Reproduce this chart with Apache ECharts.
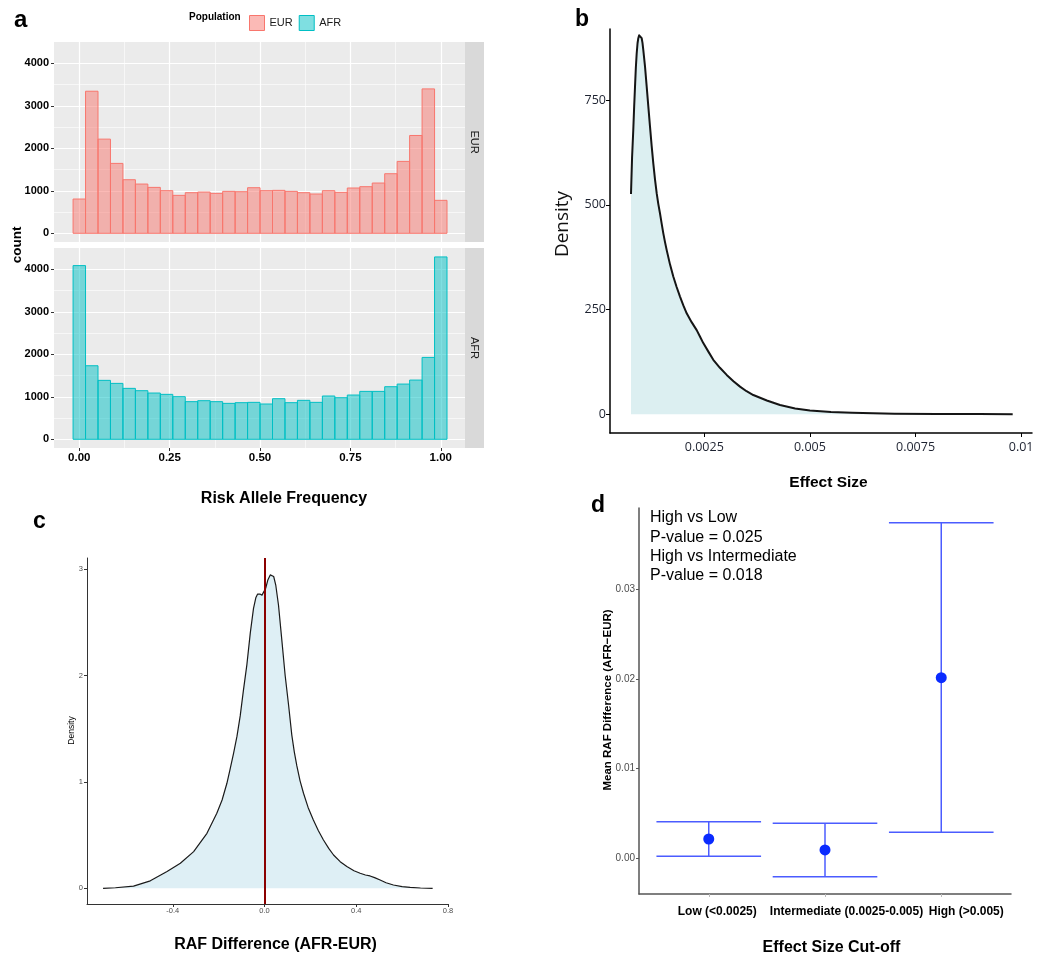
<!DOCTYPE html>
<html><head><meta charset="utf-8">
<script src="https://cdn.jsdelivr.net/npm/echarts@6/dist/echarts.min.js"></script>
<style>html,body{margin:0;padding:0;background:#fff}#chart{width:1050px;height:963px}</style>
</head><body><div id="chart"></div>
<script>
// ---------- Panel a: histogram of risk allele frequency ----------
const RAF_BIN_COUNT = 30;                       // ggplot default bins
const rafTicks = [0, 0.25, 0.5, 0.75, 1];
const rafMinorTicks = [0.125, 0.375, 0.625, 0.875];
const countTicks = [0, 1000, 2000, 3000, 4000];
const countMinorTicks = [500, 1500, 2500, 3500];
const eurCounts = [806, 3342, 2215, 1644, 1260, 1158, 1080, 1002, 892, 955, 970, 939, 986, 978, 1072,
                   1002, 1010, 986, 955, 924, 1002, 963, 1065, 1096, 1182, 1401, 1691, 2301, 3397, 775];
const afrCounts = [4086, 1730, 1386, 1315, 1198, 1143, 1088, 1057, 1002, 885, 908, 885, 845, 861, 869,
                   830, 955, 861, 916, 869, 1018, 978, 1041, 1127, 1127, 1237, 1299, 1393, 1926, 4290];

// ---------- Panel b: density of effect size ----------
const effectX = [0.000765, 0.000790, 0.000819, 0.000840, 0.000860, 0.000880, 0.000900, 0.000920, 0.000938,
                 0.000958, 0.000978, 0.000998, 0.001018, 0.001037, 0.001056, 0.001097, 0.001137,
                 0.001176, 0.001215, 0.001254, 0.001293, 0.001333, 0.001373, 0.001412, 0.001451, 0.001490,
                 0.001530, 0.001570, 0.001610, 0.001688, 0.001766, 0.001845, 0.001925, 0.002004, 0.002083,
                 0.002200, 0.002320, 0.002400, 0.002476, 0.002600, 0.002713, 0.002870, 0.003030, 0.003190,
                 0.003345, 0.003500, 0.003660, 0.003980, 0.004292, 0.004650, 0.0050, 0.0055,
                 0.0060, 0.0065, 0.0070, 0.0080, 0.0090, 0.0098];
const effectDensity = [526, 612, 679, 735, 782, 828, 862, 886, 898, 905, 906, 904, 898, 887, 870, 830, 782,
                       734, 687, 641, 599, 561, 528, 502, 480, 456, 432, 411, 392, 358, 329, 304, 281, 260, 241,
                       220, 201, 185, 170, 149, 130, 111, 94, 79, 66, 55, 46, 33, 22, 14, 9, 5.5,
                       3.5, 2.2, 1.4, 0.8, 0.5, 0.3];
const effectTicks = [0.0025, 0.005, 0.0075, 0.01];
const effectTickLabels = ['0.0025', '0.005', '0.0075', '0.01'];
const effectDensityTicks = [0, 250, 500, 750];

// ---------- Panel c: density of RAF difference ----------
const rafDiffX = [-0.704, -0.65, -0.571, -0.498, -0.425, -0.367, -0.309, -0.251, -0.208, -0.185, -0.164, -0.150,
                  -0.135, -0.120, -0.106, -0.092, -0.077, -0.062, -0.048, -0.038, -0.030, -0.020, -0.011,
                  -0.003, 0.005, 0.015, 0.025, 0.031, 0.040, 0.049, 0.061, 0.076, 0.090, 0.105, 0.119, 0.130,
                  0.141, 0.155, 0.170, 0.190, 0.213, 0.235, 0.257, 0.280, 0.301, 0.330, 0.359, 0.390, 0.417,
                  0.440, 0.460, 0.480, 0.504, 0.530, 0.562, 0.600, 0.635, 0.680, 0.733];
const rafDiffDensity = [0, 0.005, 0.02, 0.07, 0.157, 0.235, 0.345, 0.517, 0.705, 0.83, 0.987, 1.12,
                        1.268, 1.43, 1.62, 1.86, 2.10, 2.40, 2.63, 2.73, 2.765, 2.765, 2.755,
                        2.765, 2.82, 2.90, 2.945, 2.955, 2.93, 2.85, 2.66, 2.32, 2.0, 1.72, 1.44, 1.28,
                        1.15, 1.01, 0.893, 0.76, 0.642, 0.54, 0.454, 0.375, 0.313, 0.25, 0.204, 0.165, 0.141,
                        0.125, 0.116, 0.10, 0.078, 0.052, 0.031, 0.016, 0.009, 0.003, 0];
const rafDiffTicks = [-0.4, 0, 0.4, 0.8];
const rafDiffTickLabels = ['-0.4', '0.0', '0.4', '0.8'];
const rafDiffDensityTicks = [0, 1, 2, 3];

// ---------- Panel d: mean RAF difference by effect size cut-off ----------
const cutoffCategories = ['Low (<0.0025)', 'Intermediate (0.0025-0.005)', 'High (>0.005)'];
const cutoffMeans = [0.00215, 0.00093, 0.02013];
const cutoffLower = [0.00022, -0.00205, 0.0029];
const cutoffUpper = [0.00408, 0.0039, 0.03741];
const meanTicks = [0, 0.01, 0.02, 0.03];
const meanTickLabels = ['0.00', '0.01', '0.02', '0.03'];

// ---------- build ----------
const FF = "'Liberation Sans', Arial, Helvetica, sans-serif";
const FO = "'Open Sans', 'Noto Sans', sans-serif";
const binWidth = 1 / (RAF_BIN_COUNT - 1);
const binData = counts => counts.map((c, i) => [i * binWidth - binWidth / 2, i * binWidth + binWidth / 2, c]);
const WHISKER = 0.45;

function histRender(fill, stroke) {
  return function (params, api) {
    const p0 = api.coord([api.value(0), api.value(2)]);
    const p1 = api.coord([api.value(1), 0]);
    return { type: 'rect', shape: { x: p0[0], y: p0[1], width: p1[0] - p0[0], height: p1[1] - p0[1] },
      style: { fill: fill, stroke: stroke, lineWidth: 1 } };
  };
}
function errRender(params, api) {
  const x = api.value(0);
  const pHi = api.coord([x, api.value(2)]);
  const pLo = api.coord([x, api.value(1)]);
  const half = api.coord([x + WHISKER, 0])[0] - api.coord([x, 0])[0];
  const st = { stroke: '#4b5cff', lineWidth: 1.5 };
  return { type: 'group', children: [
    { type: 'line', shape: { x1: pHi[0], y1: pHi[1], x2: pLo[0], y2: pLo[1] }, style: st },
    { type: 'line', shape: { x1: pHi[0] - half, y1: pHi[1], x2: pHi[0] + half, y2: pHi[1] }, style: st },
    { type: 'line', shape: { x1: pLo[0] - half, y1: pLo[1], x2: pLo[0] + half, y2: pLo[1] }, style: st }
  ] };
}

const gg = { show: true, backgroundColor: '#EBEBEB', borderWidth: 0, outerBoundsMode: 'none' };
const plain = { show: false, outerBoundsMode: 'none' };

function aX(gridIndex, showLabels) {
  return [{
    type: 'value', gridIndex, min: -0.07, max: 1.067, position: 'bottom',
    axisLine: { show: false, onZero: false },
    axisTick: { show: showLabels, customValues: rafTicks, length: 3, lineStyle: { color: '#333' } },
    axisLabel: { show: showLabels, customValues: rafTicks, margin: 4, fontSize: 11.5, fontWeight: 'bold',
      color: '#000', fontFamily: FF, formatter: v => v.toFixed(2) },
    splitLine: { show: true, lineStyle: { color: '#fff', width: 1.2 } }
  }, {
    type: 'value', gridIndex, min: -0.07, max: 1.067, position: 'top',
    axisLine: { show: false, onZero: false }, axisLabel: { show: false },
    axisTick: { show: false, customValues: rafMinorTicks },
    splitLine: { show: true, lineStyle: { color: '#fff', width: 0.6 } }
  }];
}
function aY(gridIndex) {
  return [{
    type: 'value', gridIndex, min: -205, max: 4500, position: 'left',
    axisLine: { show: false, onZero: false },
    axisTick: { show: true, customValues: countTicks, length: 3, lineStyle: { color: '#333' } },
    axisLabel: { customValues: countTicks, margin: 5, fontSize: 11, fontWeight: 'bold', color: '#000',
      fontFamily: FF, formatter: v => String(v) },
    splitLine: { show: true, lineStyle: { color: '#fff', width: 1.2 } }
  }, {
    type: 'value', gridIndex, min: -205, max: 4500, position: 'right',
    axisLine: { show: false, onZero: false }, axisLabel: { show: false },
    axisTick: { show: false, customValues: countMinorTicks },
    splitLine: { show: true, lineStyle: { color: '#fff', width: 0.6 } }
  }];
}

const labelPad = [17, 43, 50];

const option = {
  animation: false,
  backgroundColor: '#fff',
  grid: [
    Object.assign({ left: 54, top: 42, width: 411, height: 200 }, gg),
    Object.assign({ left: 54, top: 248, width: 411, height: 200 }, gg),
    Object.assign({ left: 610, top: 29, width: 422, height: 404 }, plain),
    Object.assign({ left: 87, top: 558, width: 361, height: 346 }, plain),
    Object.assign({ left: 639, top: 508, width: 372, height: 386 }, plain)
  ],
  xAxis: [
    ...aX(0, false), ...aX(1, true),
    { type: 'value', gridIndex: 2, min: 0.000268, max: 0.010257,
      axisLine: { onZero: false, lineStyle: { color: '#000', width: 1.5 } },
      axisTick: { customValues: effectTicks, length: 4, lineStyle: { color: '#000' } },
      axisLabel: { customValues: effectTicks, margin: 8, fontSize: 12.5, color: '#1d2230', fontFamily: FO,
        formatter: v => effectTickLabels[effectTicks.indexOf(v)] ?? String(v) },
      splitLine: { show: false } },
    { type: 'value', gridIndex: 3, min: -0.774, max: 0.800,
      axisLine: { onZero: false, lineStyle: { color: '#333', width: 1 } },
      axisTick: { customValues: rafDiffTicks, length: 3, lineStyle: { color: '#333' } },
      axisLabel: { customValues: rafDiffTicks, margin: 3, fontSize: 7.5, color: '#4d4d4d', fontFamily: FF,
        formatter: v => rafDiffTickLabels[rafDiffTicks.indexOf(v)] ?? String(v) },
      splitLine: { show: false } },
    { type: 'value', gridIndex: 4, min: 0.4, max: 3.6,
      axisLine: { onZero: false, lineStyle: { color: '#555', width: 1.5 } },
      axisTick: { customValues: [1, 2, 3], length: 3, lineStyle: { color: '#bbb' } },
      axisLabel: { customValues: [1, 2, 3], margin: 12, color: '#000',
        formatter: v => '{c' + (v - 1) + '|' + cutoffCategories[v - 1] + '}',
        rich: {
          c0: { fontSize: 12, fontWeight: 'bold', fontFamily: FF, color: '#000', padding: [0, 0, 0, labelPad[0]] },
          c1: { fontSize: 12, fontWeight: 'bold', fontFamily: FF, color: '#000', padding: [0, 0, 0, labelPad[1]] },
          c2: { fontSize: 12, fontWeight: 'bold', fontFamily: FF, color: '#000', padding: [0, 0, 0, labelPad[2]] }
        } },
      splitLine: { show: false } }
  ],
  yAxis: [
    ...aY(0), ...aY(1),
    { type: 'value', gridIndex: 2, min: -44.7, max: 920,
      axisLine: { onZero: false, lineStyle: { color: '#000', width: 1.5 } },
      axisTick: { customValues: effectDensityTicks, length: 4, lineStyle: { color: '#000' } },
      axisLabel: { customValues: effectDensityTicks, margin: 4, fontSize: 12.5, color: '#1d2230', fontFamily: FO,
        formatter: v => String(v) },
      splitLine: { show: false } },
    { type: 'value', gridIndex: 3, min: -0.1476, max: 3.104,
      axisLine: { onZero: false, lineStyle: { color: '#333', width: 1 } },
      axisTick: { customValues: rafDiffDensityTicks, length: 3, lineStyle: { color: '#333' } },
      axisLabel: { customValues: rafDiffDensityTicks, margin: 4, fontSize: 7.5, color: '#4d4d4d', fontFamily: FF,
        formatter: v => String(v) },
      splitLine: { show: false } },
    { type: 'value', gridIndex: 4, min: -0.00398, max: 0.03905,
      axisLine: { onZero: false, lineStyle: { color: '#555', width: 1.5 } },
      axisTick: { customValues: meanTicks, length: 3, lineStyle: { color: '#555' } },
      axisLabel: { customValues: meanTicks, margin: 4, fontSize: 10, color: '#4d4d4d', fontFamily: FF,
        formatter: v => meanTickLabels[meanTicks.indexOf(v)] ?? String(v) },
      splitLine: { show: false } }
  ],
  legend: {
    left: 244, top: 10, itemWidth: 15, itemHeight: 15, itemGap: 6, icon: 'rect', selectedMode: false,
    textStyle: { fontSize: 11, fontFamily: FF, color: '#1a1a1a' },
    data: [
      { name: 'EUR', itemStyle: { color: 'rgba(248,118,109,0.5)', borderColor: '#F8766D', borderWidth: 1 } },
      { name: 'AFR', itemStyle: { color: 'rgba(0,191,196,0.5)', borderColor: '#00BFC4', borderWidth: 1 } }
    ]
  },
  series: [
    { name: 'EUR', type: 'custom', xAxisIndex: 0, yAxisIndex: 0, data: binData(eurCounts),
      encode: { x: [0, 1], y: 2 }, itemStyle: { color: 'rgba(248,118,109,0.5)' },
      renderItem: histRender('rgba(248,118,109,0.5)', '#F8766D') },
    { name: 'AFR', type: 'custom', xAxisIndex: 2, yAxisIndex: 2, data: binData(afrCounts),
      encode: { x: [0, 1], y: 2 }, itemStyle: { color: 'rgba(0,191,196,0.5)' },
      renderItem: histRender('rgba(0,191,196,0.5)', '#00BFC4') },
    { name: 'Effect size density', type: 'line', xAxisIndex: 4, yAxisIndex: 4,
      data: effectX.map((x, i) => [x, effectDensity[i]]), smooth: false,
      showSymbol: false, lineStyle: { color: '#151515', width: 2, join: 'round' },
      areaStyle: { color: '#dceff1', opacity: 1 } },
    { name: 'RAF difference density', type: 'line', xAxisIndex: 5, yAxisIndex: 5,
      data: rafDiffX.map((x, i) => [x, rafDiffDensity[i]]), smooth: false,
      showSymbol: false, lineStyle: { color: '#1a1a1a', width: 1.2, join: 'round' },
      areaStyle: { color: '#deeff5', opacity: 1 },
      markLine: { silent: true, symbol: ['none', 'none'], label: { show: false },
        lineStyle: { color: '#8B0000', width: 2, type: 'solid' }, data: [{ xAxis: 0 }] } },
    { name: 'CI', type: 'custom', xAxisIndex: 6, yAxisIndex: 6,
      data: cutoffCategories.map((c, i) => [i + 1, cutoffLower[i], cutoffUpper[i]]),
      encode: { x: 0, y: [1, 2] }, renderItem: errRender },
    { name: 'Mean', type: 'scatter', xAxisIndex: 6, yAxisIndex: 6, symbolSize: 11,
      data: cutoffCategories.map((c, i) => [i + 1, cutoffMeans[i]]),
      itemStyle: { color: '#0a2bff', opacity: 1 }, z: 5 }
  ],
  graphic: [
    { type: 'text', x: 14, y: 20, style: { text: 'a', font: 'bold 24px ' + FF, fill: '#000', verticalAlign: 'middle' } },
    { type: 'text', x: 575, y: 20, style: { text: 'b', font: 'bold 23px ' + FF, fill: '#000', verticalAlign: 'middle' } },
    { type: 'text', x: 33, y: 522, style: { text: 'c', font: 'bold 23px ' + FF, fill: '#000', verticalAlign: 'middle' } },
    { type: 'text', x: 591, y: 506, style: { text: 'd', font: 'bold 23px ' + FF, fill: '#000', verticalAlign: 'middle' } },
    { type: 'text', x: 189, y: 17.5, style: { text: 'Population', font: 'bold 10px ' + FF, fill: '#000', verticalAlign: 'middle' } },
    { type: 'rect', shape: { x: 465, y: 42, width: 19, height: 200 }, style: { fill: '#D9D9D9' } },
    { type: 'rect', shape: { x: 465, y: 248, width: 19, height: 200 }, style: { fill: '#D9D9D9' } },
    { type: 'text', x: 474.5, y: 142, rotation: -Math.PI / 2,
      style: { text: 'EUR', font: '11px ' + FF, fill: '#1a1a1a', align: 'center', verticalAlign: 'middle' } },
    { type: 'text', x: 474.5, y: 348, rotation: -Math.PI / 2,
      style: { text: 'AFR', font: '11px ' + FF, fill: '#1a1a1a', align: 'center', verticalAlign: 'middle' } },
    { type: 'text', x: 17, y: 245, rotation: Math.PI / 2,
      style: { text: 'count', font: 'bold 13.5px ' + FF, fill: '#000', align: 'center', verticalAlign: 'middle' } },
    { type: 'text', x: 284, y: 499,
      style: { text: 'Risk Allele Frequency', font: 'bold 16px ' + FF, fill: '#000', align: 'center', verticalAlign: 'middle' } },
    { type: 'text', x: 563, y: 224, rotation: Math.PI / 2,
      style: { text: 'Density', font: '19px ' + FO, fill: '#111', align: 'center', verticalAlign: 'middle' } },
    { type: 'text', x: 828.5, y: 483,
      style: { text: 'Effect Size', font: 'bold 15.5px ' + FF, fill: '#000', align: 'center', verticalAlign: 'middle' } },
    { type: 'text', x: 72, y: 730.5, rotation: Math.PI / 2,
      style: { text: 'Density', font: '8.5px ' + FF, fill: '#000', align: 'center', verticalAlign: 'middle' } },
    { type: 'text', x: 275.5, y: 945,
      style: { text: 'RAF Difference (AFR-EUR)', font: 'bold 16px ' + FF, fill: '#000', align: 'center', verticalAlign: 'middle' } },
    { type: 'text', x: 607.5, y: 700, rotation: Math.PI / 2,
      style: { text: 'Mean RAF Difference (AFR\u2212EUR)', font: 'bold 11.5px ' + FF, fill: '#000', align: 'center', verticalAlign: 'middle' } },
    { type: 'text', x: 831.5, y: 947.5,
      style: { text: 'Effect Size Cut-off', font: 'bold 16px ' + FF, fill: '#000', align: 'center', verticalAlign: 'middle' } },
    { type: 'text', x: 650, y: 508,
      style: { text: 'High vs Low\nP-value = 0.025\nHigh vs Intermediate\nP-value = 0.018',
        font: '16px ' + FF, lineHeight: 19.4, fill: '#000', verticalAlign: 'top' } }
  ]
};

const chart = echarts.init(document.getElementById('chart'), null, { renderer: 'canvas', width: 1050, height: 963 });
chart.setOption(option);
</script></body></html>
